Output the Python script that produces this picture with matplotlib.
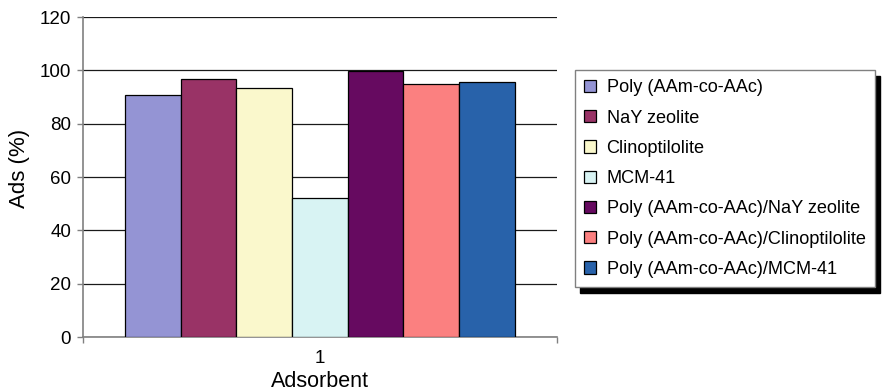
import matplotlib
matplotlib.use("Agg")
import matplotlib.pyplot as plt

plt.rcParams['font.family'] = ['Liberation Sans', 'DejaVu Sans']

# Adsorption percentage for each adsorbent
series_names = [
    "Poly (AAm-co-AAc)",
    "NaY zeolite",
    "Clinoptilolite",
    "MCM-41",
    "Poly (AAm-co-AAc)/NaY zeolite",
    "Poly (AAm-co-AAc)/Clinoptilolite",
    "Poly (AAm-co-AAc)/MCM-41",
]
ads_values = [90.8, 96.9, 93.5, 52.2, 99.8, 94.8, 95.6]
series_colors = ["#9494D4", "#993366", "#FAF8CC", "#D8F3F3",
                 "#660A60", "#FB8080", "#2862AA"]
category_labels = ["1"]
y_ticks = [0, 20, 40, 60, 80, 100, 120]

fig = plt.figure(figsize=(8.87, 3.92), dpi=100)
ax = fig.add_axes([0.0936, 0.1403, 0.534, 0.8163])

n = len(ads_values)
group_width = 0.823
bar_w = group_width / n
start = 1 - group_width / 2 + bar_w / 2
for i, (name, val, col) in enumerate(zip(series_names, ads_values, series_colors)):
    ax.bar(start + i * bar_w, val, width=bar_w, color=col, edgecolor="black",
           linewidth=0.9, label=name, zorder=3)

ax.set_xlim(0.5, 1.5)
ax.set_ylim(0, 120)
ax.set_yticks(y_ticks)
ax.yaxis.grid(True, color="#1a1a1a", linewidth=0.9, zorder=0)
ax.set_axisbelow(True)

ax.set_xticks([1])
ax.set_xticklabels(category_labels)
ax.set_xticks([0.5, 1.5], minor=True)
ax.tick_params(axis="x", which="major", length=0, labelsize=13.5, pad=9)
ax.tick_params(axis="x", which="minor", length=4.5, color="#808080", width=1)
ax.tick_params(axis="y", length=4.5, color="#808080", width=1, labelsize=13.5, pad=4)

for side in ("top", "right"):
    ax.spines[side].set_visible(False)
for side in ("left", "bottom"):
    ax.spines[side].set_color("#808080")
    ax.spines[side].set_linewidth(1.2)

ax.set_ylabel("Ads (%)", fontsize=16)
ax.yaxis.set_label_coords(-0.112, 0.528)
ax.set_xlabel("Adsorbent", fontsize=15.5, labelpad=3)

leg = fig.legend(loc="upper left", bbox_to_anchor=(0.648, 0.821),
                 bbox_transform=fig.transFigure, fontsize=13.1,
                 frameon=True, fancybox=False, edgecolor="#808080",
                 handlelength=0.65, handleheight=0.65, handletextpad=0.6,
                 labelspacing=0.73, borderpad=0.5, borderaxespad=0,
                 shadow={'ox': 3.6, 'oy': -4.5, 'color': 'black', 'alpha': 1})
leg.get_frame().set_linewidth(1.0)

fig.savefig("out.png", dpi=100)
